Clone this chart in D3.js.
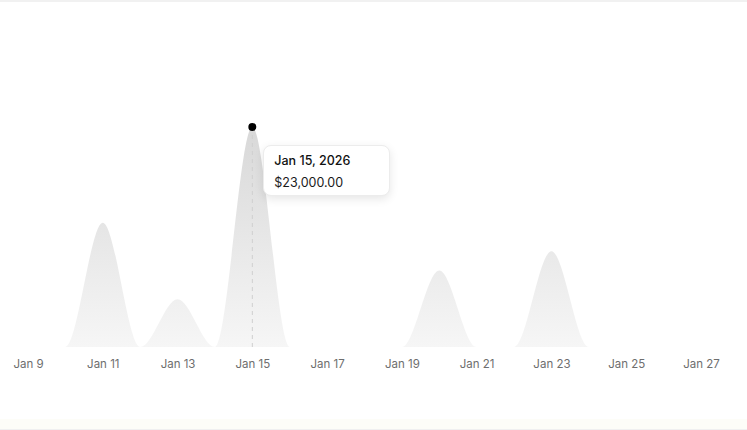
<!DOCTYPE html>
<html>
<head>
<meta charset="utf-8">
<script src="https://cdn.jsdelivr.net/npm/d3@7"></script>
<style>
  html, body { margin: 0; padding: 0; background: #ffffff; }
  body { width: 747px; height: 430px; position: relative; overflow: hidden; font-family: Inter, "DejaVu Sans", sans-serif; }
  #tip {
    position: absolute; box-sizing: border-box;
    background: #fff; border: 1px solid #ececec; border-radius: 8px;
    box-shadow: 0 3px 10px rgba(0,0,0,0.10);
    color: #111;
  }
  #tip .d { font-size: 12.5px; font-weight: 500; position: absolute; left: 10px; top: 7px; }
  #tip .v { font-size: 12.5px; font-weight: 400; position: absolute; left: 10px; top: 29px; color: #1a1a1a; }
</style>
</head>
<body>
<svg id="chart" width="747" height="430"></svg>
<div id="tip"><div class="d"></div><div class="v"></div></div>
<script>
// ---- data ----
const dates = [
  "2026-01-08","2026-01-09","2026-01-10","2026-01-11","2026-01-12","2026-01-13",
  "2026-01-14","2026-01-15","2026-01-16","2026-01-17","2026-01-18","2026-01-19",
  "2026-01-20","2026-01-21","2026-01-22","2026-01-23","2026-01-24","2026-01-25",
  "2026-01-26","2026-01-27","2026-01-28"
];
const values = [
  0, 0, 0, 13000, 0, 5000,
  0, 23000, 0, 0, 0, 0,
  8000, 0, 0, 10000, 0, 0,
  0, 0, 0
];
const tickDates = [
  "2026-01-09","2026-01-11","2026-01-13","2026-01-15","2026-01-17",
  "2026-01-19","2026-01-21","2026-01-23","2026-01-25","2026-01-27"
];
const highlightDate = "2026-01-15";

// ---- chart ----
const parse = d3.utcParse("%Y-%m-%d");
const data = dates.map((d, i) => ({ date: parse(d), value: values[i] }));
const W = 747, H = 430;
const baseline = 347, topY = 127;

const x = d3.scaleUtc()
  .domain([parse("2026-01-09"), parse("2026-01-27")])
  .range([28, 701]);
const y = d3.scaleLinear()
  .domain([0, d3.max(values)])
  .range([baseline, topY]);

const svg = d3.select("#chart");

// page frame lines
svg.append("rect").attr("x", 0).attr("y", 0).attr("width", W).attr("height", 2).attr("fill", "#f1f1f1");
svg.append("rect").attr("x", 0).attr("y", 419).attr("width", W).attr("height", 10).attr("fill", "#fdfdf8");
svg.append("rect").attr("x", 0).attr("y", 429).attr("width", W).attr("height", 1).attr("fill", "#f0f0f0");

const defs = svg.append("defs");
const grad = defs.append("linearGradient")
  .attr("id", "fillGrad")
  .attr("gradientUnits", "userSpaceOnUse")
  .attr("x1", 0).attr("x2", 0)
  .attr("y1", y(d3.max(values))).attr("y2", baseline);
grad.append("stop").attr("offset", "0%").attr("stop-color", "#d8d8d8");
grad.append("stop").attr("offset", "100%").attr("stop-color", "#f6f6f6");

const area = d3.area()
  .x(d => x(d.date))
  .y0(y(0))
  .y1(d => y(d.value))
  .curve(d3.curveMonotoneX);

svg.append("path")
  .datum(data)
  .attr("d", area)
  .attr("fill", "url(#fillGrad)");

// x axis (labels only)
const axis = d3.axisBottom(x)
  .tickValues(tickDates.map(parse))
  .tickFormat(d3.utcFormat("%b %-d"))
  .tickSize(0)
  .tickPadding(0);
const gx = svg.append("g")
  .attr("transform", `translate(0, ${baseline + 12})`)
  .call(axis);
gx.select(".domain").remove();
gx.selectAll("text")
  .attr("dy", "0.75em")
  .attr("fill", "#6e6e6e")
  .style("font-family", "Inter, 'DejaVu Sans', sans-serif")
  .style("font-size", "11.5px");

// highlight
const h = data.find(d => +d.date === +parse(highlightDate));
const hx = x(h.date), hy = y(h.value);
svg.append("line")
  .attr("x1", hx).attr("x2", hx)
  .attr("y1", hy).attr("y2", y(0))
  .attr("stroke", "#cfcfcf")
  .attr("stroke-width", 1)
  .attr("stroke-dasharray", "4,4");
svg.append("circle")
  .attr("cx", hx).attr("cy", hy).attr("r", 4)
  .attr("fill", "#000");

const tip = d3.select("#tip")
  .style("left", (hx + 11) + "px")
  .style("top", (hy + 18) + "px")
  .style("width", "127px")
  .style("height", "51px");
tip.select(".d").text(d3.utcFormat("%b %-d, %Y")(h.date));
tip.select(".v").text("$" + d3.format(",.2f")(h.value));
</script>
</body>
</html>
